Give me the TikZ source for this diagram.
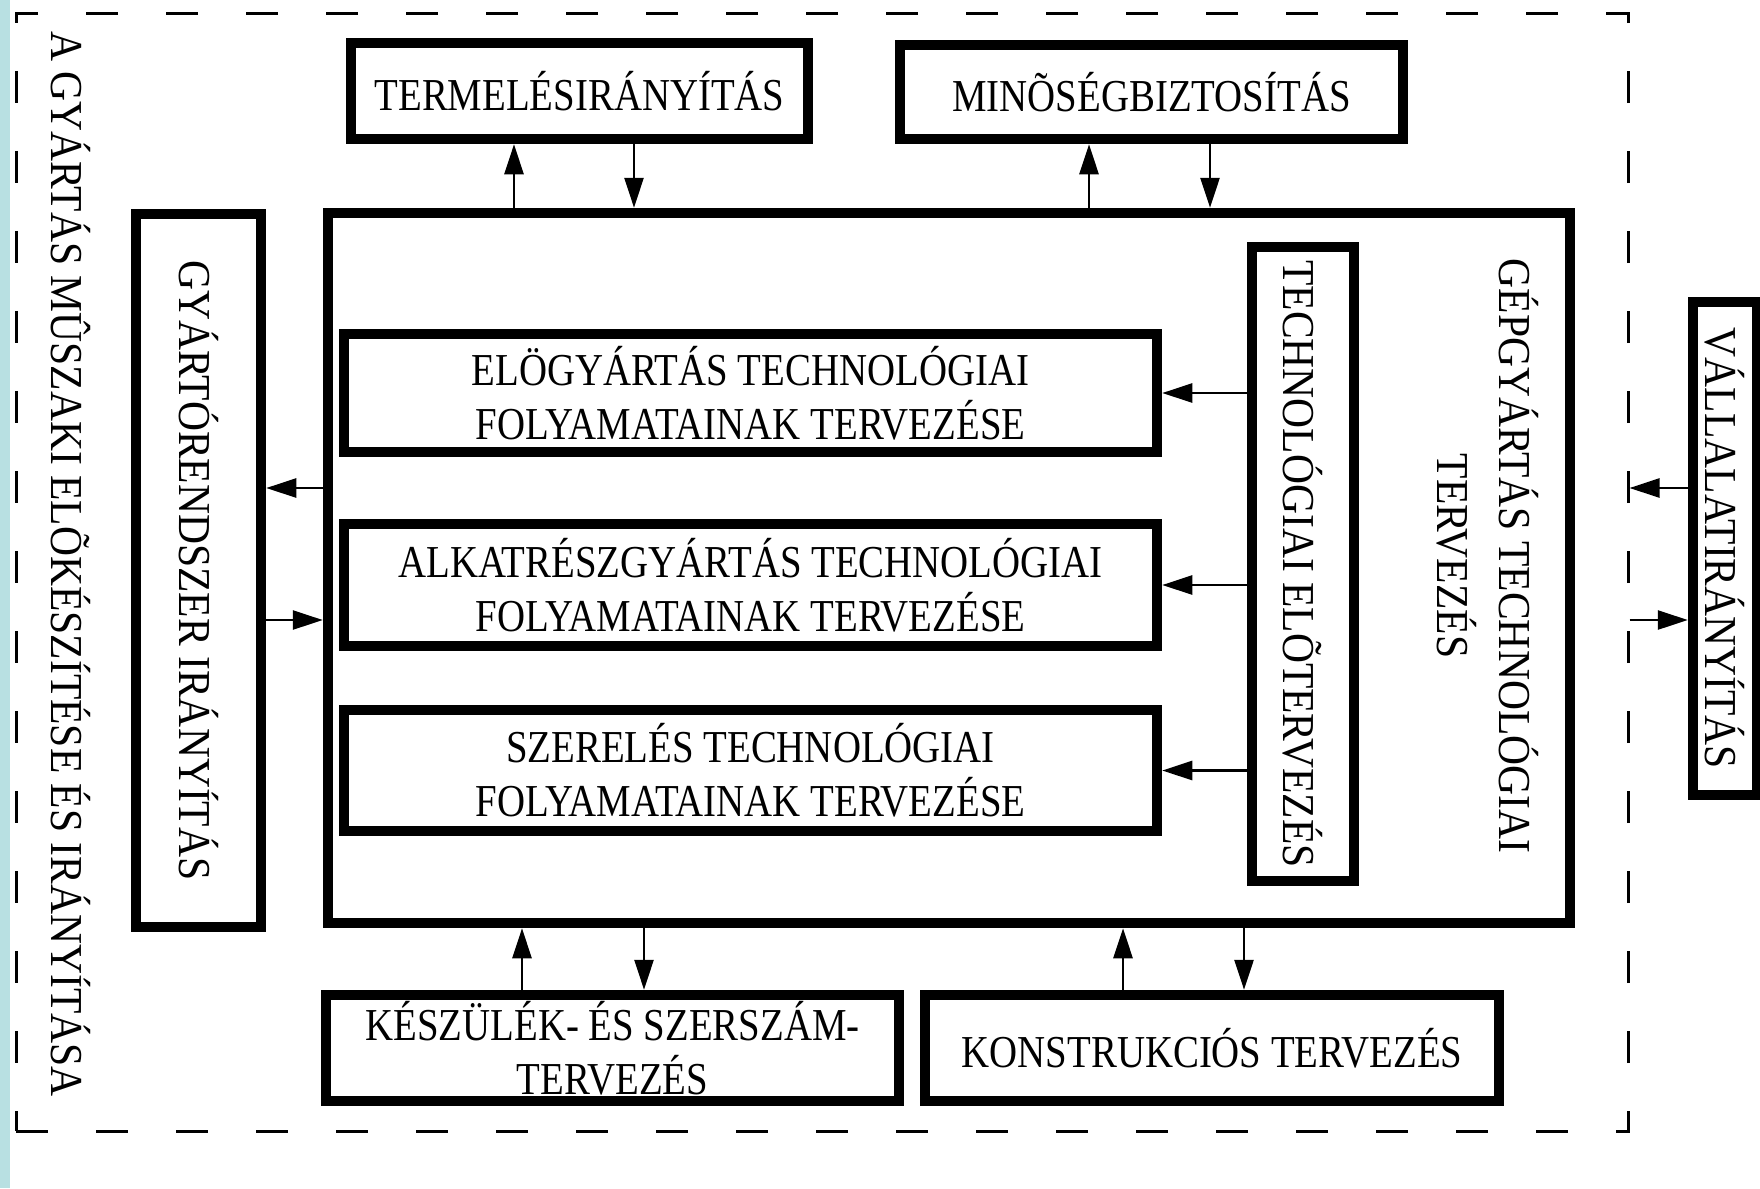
\documentclass[tikz,border=0pt]{standalone}
\usepackage{fontspec}
\setmainfont{Liberation Serif}[FakeStretch=0.85]
\newfontfamily\vertfont{Liberation Serif}[FakeStretch=0.91]
\usetikzlibrary{arrows.meta}
\definecolor{stripteal}{RGB}{184,224,226}
\begin{document}
\begin{tikzpicture}[x=0.1mm, y=-0.1mm,
  every node/.style={font=\fontsize{13}{15.4}\selectfont, inner sep=0pt},
  box/.style={draw, line width=1.05mm, align=center},
  vtext/.style={font=\vertfont\fontsize{13}{17.6}\selectfont},
  conn/.style={line width=0.27mm, -{Triangle[length=3mm,width=1.9mm]}},
  frameline/.style={draw, dash pattern=on 3.2mm off 4.8mm, line width=0.3mm}]
% page and margin strip
\fill[white] (0,0) rectangle (1760,1188);
\useasboundingbox (0,0) rectangle (1760,1188);
\fill[stripteal] (0,0) rectangle (10,1188);

% dashed outer frame and its title
\node[frameline, minimum width=161.2mm, minimum height=111.8mm] (frame) at (822,572) {};
\node[vtext, rotate=-90] (title) at (71,564) {A GYÁRTÁS MÛSZAKI ELÕKÉSZÍTÉSE ÉS IRÁNYÍTÁSA};

% upper boxes
\node[box, minimum width=45.7mm, minimum height=9.6mm] (term) at (579.5,91) {TERMELÉSIRÁNYÍTÁS};
\node[box, minimum width=50.3mm, minimum height=9.4mm] (minos) at (1151.5,92) {MINÕSÉGBIZTOSÍTÁS};

% central block
\node[box, minimum width=124.2mm, minimum height=71mm] (main) at (949,568) {};
\node[box, minimum width=81.3mm, minimum height=11.8mm] (elo) at (750.5,393)
  {ELÖGYÁRTÁS TECHNOLÓGIAI\\FOLYAMATAINAK TERVEZÉSE};
\node[box, minimum width=81.3mm, minimum height=12.2mm] (alk) at (750.5,585)
  {ALKATRÉSZGYÁRTÁS TECHNOLÓGIAI\\FOLYAMATAINAK TERVEZÉSE};
\node[box, minimum width=81.3mm, minimum height=12.1mm] (szer) at (750.5,770.5)
  {SZERELÉS TECHNOLÓGIAI\\FOLYAMATAINAK TERVEZÉSE};
\node[box, minimum width=10.2mm, minimum height=63.4mm] (tech) at (1303,564)
  {\rotatebox{-90}{\vertfont TECHNOLÓGIAI ELÕTERVEZÉS}};
\node[vtext, align=center, rotate=-90] (gep) at (1488,556)
  {GÉPGYÁRTÁS TECHNOLÓGIAI\\TERVEZÉS};

% side boxes
\node[box, minimum width=12.5mm, minimum height=71.3mm] (gyarto) at (198.5,570.5)
  {\rotatebox{-90}{\vertfont GYÁRTÓRENDSZER IRÁNYÍTÁS}};
\node[box, minimum width=6.4mm, minimum height=49.3mm] (vall) at (1725,548.5)
  {\rotatebox{-90}{\vertfont VÁLLALATIRÁNYÍTÁS}};

% lower boxes
\node[box, minimum width=57.3mm, minimum height=10.6mm] (kesz) at (612.5,1048)
  {KÉSZÜLÉK- ÉS SZERSZÁM-\\TERVEZÉS};
\node[box, minimum width=57.4mm, minimum height=10.6mm] (konst) at (1212,1048)
  {KONSTRUKCIÓS TERVEZÉS};

% connectors to the upper boxes
\draw[conn] (514,0 |- main.north) -- (514,0 |- term.south);
\draw[conn] (634,0 |- term.south) -- (634,0 |- main.north);
\draw[conn] (1089,0 |- main.north) -- (1089,0 |- minos.south);
\draw[conn] (1210,0 |- minos.south) -- (1210,0 |- main.north);

% connectors to the lower boxes
\draw[conn] (522,0 |- kesz.north) -- (522,0 |- main.south);
\draw[conn] (644,0 |- main.south) -- (644,0 |- kesz.north);
\draw[conn] (1123,0 |- konst.north) -- (1123,0 |- main.south);
\draw[conn] (1244,0 |- main.south) -- (1244,0 |- konst.north);

% left side
\draw[conn] (main.west |- 0,488) -- (gyarto.east |- 0,488);
\draw[conn] (gyarto.east |- 0,620) -- (main.west |- 0,620);

% preliminary planning feeds the three process boxes
\draw[conn] (tech.west |- elo.east) -- (elo.east);
\draw[conn] (tech.west |- alk.east) -- (alk.east);
\draw[conn] (tech.west |- szer.east) -- (szer.east);

% right side
\draw[conn] (vall.west |- 0,488) -- (frame.east |- 0,488);
\draw[conn] (frame.east |- 0,620) -- (vall.west |- 0,620);
\end{tikzpicture}
\end{document}
